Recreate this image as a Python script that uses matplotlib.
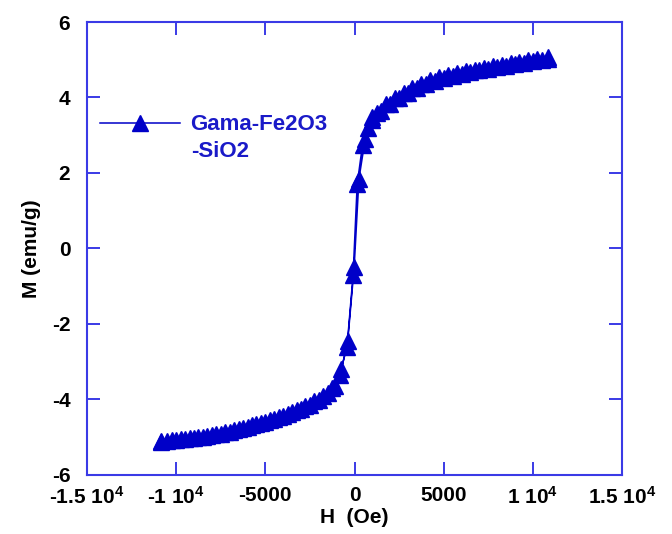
import matplotlib
matplotlib.use("Agg")
import matplotlib.pyplot as plt

# field sweep going up (Oe) and magnetisation (emu/g)
h_up = [-10850, -10500, -10000, -9500, -9000, -8500, -8000, -7500, -7000,
        -6500, -6000, -5500, -5000, -4500, -4000, -3500, -3000, -2500,
        -2000, -1500, -1100, -750, -420, -80, 150, 450, 750, 1000, 1500,
        2000, 2500, 3000, 3500, 4000, 4500, 5000, 5500, 6000, 6500, 7000,
        7500, 8000, 8500, 9000, 9500, 10000, 10500, 10850]
m_up = [-5.13, -5.10, -5.08, -5.05, -5.03, -4.99, -4.95, -4.91, -4.86,
        -4.79, -4.73, -4.66, -4.59, -4.51, -4.43, -4.34, -4.25, -4.14,
        -4.01, -3.84, -3.65, -3.20, -2.60, -0.70, 1.70, 2.75, 3.20, 3.40,
        3.64, 3.84, 3.98, 4.12, 4.26, 4.36, 4.44, 4.51, 4.57, 4.62, 4.67,
        4.72, 4.76, 4.80, 4.84, 4.88, 4.92, 4.96, 5.00, 5.03]

# field sweep going back down
h_down = [10850, 10250, 9750, 9250, 8750, 8250, 7750, 7250, 6750, 6250,
          5750, 5250, 4750, 4250, 3750, 3250, 2750, 2250, 1750, 1250, 1000,
          600, 250, -20, -380, -800, -1250, -1750, -2250, -2750, -3250,
          -3750, -4250, -4750, -5250, -5750, -6250, -6750, -7250, -7750,
          -8250, -8750, -9250, -9750, -10250, -10850]
m_down = [5.08, 5.03, 4.99, 4.95, 4.91, 4.87, 4.83, 4.79, 4.74, 4.69,
          4.64, 4.59, 4.53, 4.46, 4.37, 4.26, 4.13, 3.99, 3.82, 3.60, 3.48,
          2.90, 1.85, -0.50, -2.45, -3.35, -3.70, -3.90, -4.05, -4.18,
          -4.29, -4.38, -4.46, -4.54, -4.61, -4.68, -4.75, -4.81, -4.87,
          -4.92, -4.96, -5.00, -5.03, -5.05, -5.08, -5.11]

x_ticks = [-15000, -10000, -5000, 0, 5000, 10000, 15000]
x_labels = ["-1.5 10$^{4}$", "-1 10$^{4}$", "-5000", "0", "5000",
            "1 10$^{4}$", "1.5 10$^{4}$"]
y_ticks = [-6, -4, -2, 0, 2, 4, 6]

data_blue = "#0000c8"
text_blue = "#1a1ac8"
axis_blue = "#3a3ae6"

plt.rcParams["font.family"] = ["Liberation Sans", "DejaVu Sans"]
plt.rcParams["font.weight"] = "bold"
plt.rcParams["axes.unicode_minus"] = False
plt.rcParams["mathtext.fontset"] = "custom"
plt.rcParams["mathtext.rm"] = "Liberation Sans:bold"
plt.rcParams["mathtext.default"] = "rm"

fig = plt.figure(figsize=(6.72, 5.34), dpi=100)
ax = fig.add_axes([0.1295, 0.1105, 0.7961, 0.8483])

ax.plot(h_up + h_down, m_up + m_down, color=data_blue, lw=1.1,
        marker="^", markersize=11.5, label="Gama-Fe2O3")

ax.set_xlim(-15000, 15000)
ax.set_ylim(-6, 6)
ax.set_xticks(x_ticks)
ax.set_xticklabels(x_labels)
ax.set_yticks(y_ticks)

for s in ax.spines.values():
    s.set_color(axis_blue)
    s.set_linewidth(1.5)
ax.tick_params(direction="in", length=9.5, width=1.4, color=axis_blue,
               top=True, right=True, labelsize=15)
ax.tick_params(axis="x", pad=8)
ax.tick_params(axis="y", pad=12)

ax.set_xlabel("H  (Oe)", fontsize=15, fontweight="bold", labelpad=0)
ax.set_ylabel("M (emu/g)", fontsize=15, fontweight="bold", labelpad=8)

leg = ax.legend(loc="center left", bbox_to_anchor=(0.024, 0.773),
                frameon=False, borderpad=0, borderaxespad=0,
                handlelength=3.6, handletextpad=0.45, numpoints=1,
                labelcolor=text_blue, prop={"size": 16, "weight": "bold"})
# second line of the legend label sits under the first one
# (drawn after the legend so the first line's position is known)
ax.annotate("-SiO2", xy=(0, 0.5), xycoords=leg.get_texts()[0],
            xytext=(1, -19.5), textcoords="offset points", va="center",
            fontsize=16, fontweight="bold", color=text_blue, zorder=10)

fig.savefig("out.png", dpi=100)
